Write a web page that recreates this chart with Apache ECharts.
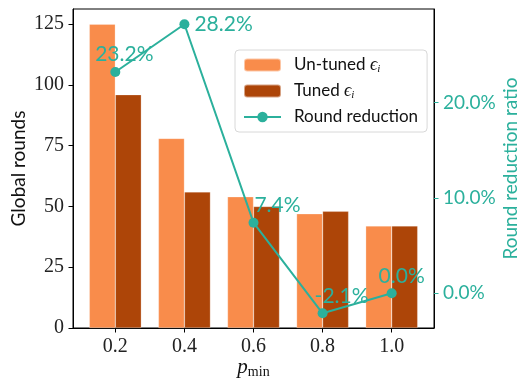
<!DOCTYPE html>
<html>
<head>
<meta charset="utf-8">
<script src="https://cdn.jsdelivr.net/npm/echarts@6/dist/echarts.min.js"></script>
<style>html,body{margin:0;padding:0;background:#fff;}#c{width:520px;height:380px;}</style>
</head>
<body>
<div id="c"></div>
<script>
const categories = ['0.2', '0.4', '0.6', '0.8', '1.0'];
const untuned = [125, 78, 54, 47, 42];
const tuned = [96, 56, 50, 48, 42];
const reduction = [23.2, 28.2, 7.4, -2.1, 0.0];
const leftTicks = [0, 25, 50, 75, 100, 125];
const rightTicks = [0, 10, 20];
const seriesNames = ['Un-tuned', 'Tuned', 'Round reduction'];

// label placement styles (pixels), one per point
const labelShiftX = [9, 0, 24, 19, 10];
const labelPlace = ['top', 'right', 'top', 'top', 'top'];

const ORANGE = '#f98c4b', DARK = '#ad4508', TEAL = '#2bb09c';
const SERIF = 'Liberation Serif', SANS = 'Lato';
const idx = categories.map((_, i) => i);

const chart = echarts.init(document.getElementById('c'), null, {renderer: 'canvas'});
chart.setOption({
  animation: false,
  backgroundColor: '#fff',
  grid: {left: 73, right: 86, top: 9, bottom: 52, show: true, borderColor: '#000', borderWidth: 1,
    backgroundColor: 'transparent', outerBoundsMode: 'none', containLabel: false},
  legend: {
    orient: 'vertical', left: 235, top: 50,
    backgroundColor: '#fff', borderColor: '#d8d8d8', borderWidth: 1, borderRadius: 4,
    padding: [5, 9, 5, 8], itemWidth: 37, itemHeight: 13, itemGap: 6,
    data: seriesNames,
    formatter: function (n) {
      if (n === seriesNames[0]) return 'Un-tuned {e|ϵ}{s|i}';
      if (n === seriesNames[1]) return 'Tuned {e|ϵ}{s|i}';
      return n;
    },
    textStyle: {
      fontFamily: SANS, fontSize: 17, color: '#111', padding: [0, 0, 0, 8], lineHeight: 20,
      rich: {
        e: {fontFamily: SERIF, fontStyle: 'italic', fontSize: 18, color: '#111'},
        s: {fontFamily: SERIF, fontStyle: 'italic', fontSize: 11, color: '#111', verticalAlign: 'bottom', padding: [7, 0, 0, 0]}
      }
    }
  },
  xAxis: {
    type: 'value', min: -0.6125, max: 4.6125,
    name: '{p|p}{s|min}', nameLocation: 'middle', nameGap: 27, nameMoveOverlap: false,
    nameTextStyle: {rich: {
      p: {fontFamily: SERIF, fontStyle: 'italic', fontSize: 21, color: '#111'},
      s: {fontFamily: SERIF, fontSize: 14, color: '#111', verticalAlign: 'bottom', padding: [10, 0, 0, 0]}
    }},
    splitLine: {show: false},
    axisLine: {show: true, onZero: false, lineStyle: {color: '#000', width: 1}},
    axisTick: {show: true, length: 4.5, customValues: idx, lineStyle: {color: '#000'}},
    axisLabel: {customValues: idx, formatter: v => categories[Math.round(v)], fontFamily: SERIF, fontSize: 20, color: '#222', margin: 9}
  },
  yAxis: [{
    type: 'value', min: 0, max: 131.25, position: 'left',
    name: 'Global rounds', nameLocation: 'middle', nameGap: 45, nameMoveOverlap: false,
    nameTextStyle: {fontFamily: SANS, fontSize: 19, color: '#111'},
    splitLine: {show: false},
    axisLine: {show: true, onZero: false, lineStyle: {color: '#000', width: 1}},
    axisTick: {show: true, length: 4.5, customValues: leftTicks, lineStyle: {color: '#000'}},
    axisLabel: {customValues: leftTicks, fontFamily: SERIF, fontSize: 20, color: '#222', margin: 9}
  }, {
    type: 'value', min: -3.64, max: 29.8, position: 'right',
    name: 'Round reduction ratio', nameLocation: 'middle', nameGap: 67, nameMoveOverlap: false,
    nameTextStyle: {fontFamily: SANS, fontSize: 19, color: TEAL},
    splitLine: {show: false},
    axisLine: {show: true, onZero: false, lineStyle: {color: '#000', width: 1}},
    axisTick: {show: true, length: 4.5, customValues: rightTicks, lineStyle: {color: TEAL}},
    axisLabel: {customValues: rightTicks, formatter: v => v.toFixed(1) + '%', fontFamily: SANS, fontSize: 19, color: TEAL, margin: 9}
  }],
  series: [{
    name: seriesNames[0], type: 'bar', yAxisIndex: 0, barWidth: 26, barGap: '0%',
    itemStyle: {color: ORANGE, borderColor: 'rgba(255,255,255,0.5)', borderWidth: 0.5},
    data: untuned.map((v, i) => [i, v])
  }, {
    name: seriesNames[1], type: 'bar', yAxisIndex: 0, barWidth: 26, barGap: '0%',
    itemStyle: {color: DARK, borderColor: 'rgba(255,255,255,0.5)', borderWidth: 0.5},
    data: tuned.map((v, i) => [i, v])
  }, {
    name: seriesNames[2], type: 'line', yAxisIndex: 1, z: 5,
    symbol: 'circle', symbolSize: 10,
    lineStyle: {color: TEAL, width: 2}, itemStyle: {color: TEAL},
    label: {show: true, formatter: p => p.value[1].toFixed(1) + '%',
      fontFamily: SANS, fontSize: 21, color: TEAL},
    data: reduction.map((v, i) => ({
      value: [i, v],
      label: labelPlace[i] === 'top'
        ? {position: 'top', offset: [labelShiftX[i], 3]}
        : {position: 'right', offset: [labelShiftX[i], 0]}
    }))
  }]
});
</script>
</body>
</html>
